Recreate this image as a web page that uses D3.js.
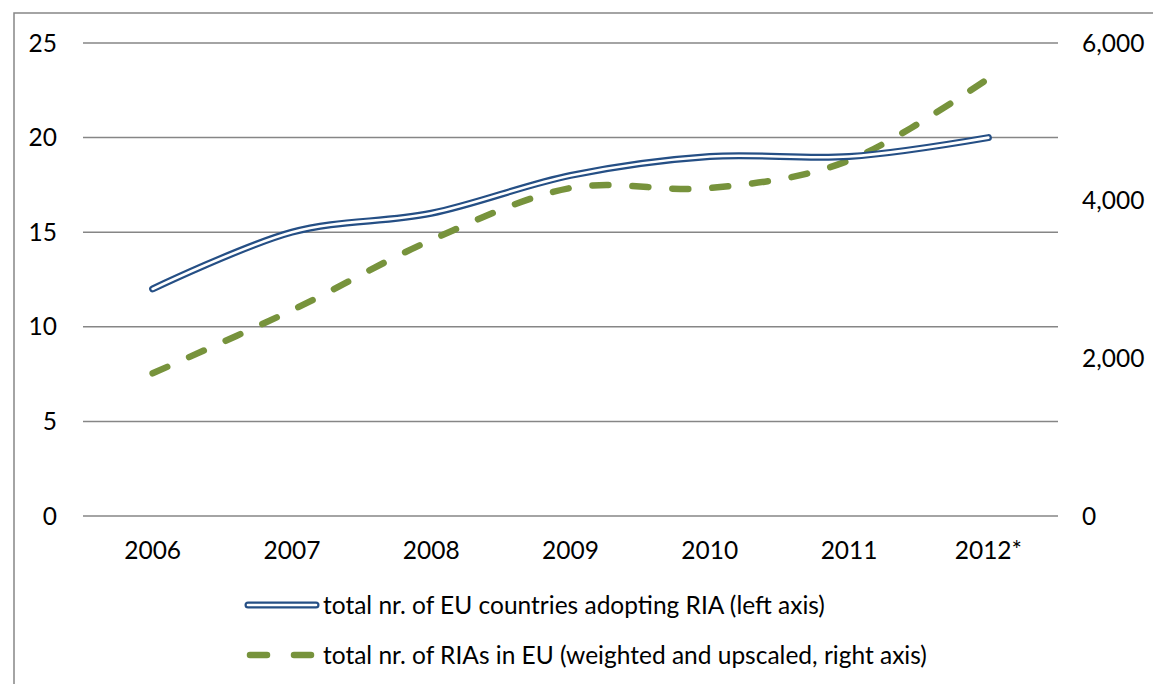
<!DOCTYPE html>
<html>
<head>
<meta charset="utf-8">
<script src="https://d3js.org/d3.v7.min.js"></script>
<style>
body { margin: 0; background: #fff; }
svg { display: block; }
text { font-family: Lato, "Open Sans", sans-serif; font-size: 24.5px; fill: #000; }
</style>
</head>
<body>
<svg id="chart" width="1153" height="684"></svg>
<script>

var years = ["2006", "2007", "2008", "2009", "2010", "2011", "2012*"];
var countries = [12, 15, 16, 18, 19, 19, 20];
var rias = [1810, 2610, 3500, 4160, 4160, 4510, 5550];
var leftTicks = [0, 5, 10, 15, 20, 25];
var rightTicks = [0, 2000, 4000, 6000];
var legendLabels = ["total nr. of EU countries adopting RIA (left axis)",
  "total nr. of RIAs in EU (weighted and upscaled, right axis)"];

var svg = d3.select("#chart");
var plotL = 83, plotR = 1058, plotT = 43, plotB = 516;

// outer frame, runs off the right and bottom edges
svg.append("rect")
  .attr("x", 14).attr("y", 13)
  .attr("width", 1200).attr("height", 700)
  .attr("fill", "none")
  .attr("stroke", "#868686")
  .attr("stroke-width", 1.5);

var x = d3.scaleBand().domain(years).range([plotL, plotR]);
var yL = d3.scaleLinear().domain([0, 25]).range([plotB, plotT]);
var yR = d3.scaleLinear().domain([0, 6000]).range([plotB, plotT]);

// gridlines
svg.selectAll(".grid").data(leftTicks).enter()
  .append("line")
  .attr("class", "grid")
  .attr("x1", plotL).attr("x2", plotR)
  .attr("y1", function(d) { return yL(d); })
  .attr("y2", function(d) { return yL(d); })
  .attr("stroke", "#868686")
  .attr("stroke-width", 1.5);

// left axis labels
svg.selectAll(".ltick").data(leftTicks).enter()
  .append("text")
  .attr("x", 57)
  .attr("y", function(d) { return yL(d); })
  .attr("dy", "0.35em")
  .attr("text-anchor", "end")
  .text(function(d) { return d; });

// right axis labels
var fmt = d3.format(",");
svg.selectAll(".rtick").data(rightTicks).enter()
  .append("text")
  .attr("x", 1082)
  .attr("y", function(d) { return yR(d); })
  .attr("dy", "0.35em")
  .attr("text-anchor", "start")
  .text(function(d) { return fmt(d); });

// category labels
svg.selectAll(".xtick").data(years).enter()
  .append("text")
  .attr("x", function(d) { return x(d) + x.bandwidth() / 2; })
  .attr("y", 550)
  .attr("dy", "0.35em")
  .attr("text-anchor", "middle")
  .text(function(d) { return d; });

var cx = function(d, i) { return x(years[i]) + x.bandwidth() / 2; };

var lineL = d3.line().x(cx).y(function(d) { return yL(d); })
  .curve(d3.curveCardinal.tension(0));
var lineR = d3.line().x(cx).y(function(d) { return yR(d); })
  .curve(d3.curveCardinal.tension(0));

// green dashed series (right axis)
svg.append("path")
  .attr("d", lineR(rias))
  .attr("fill", "none")
  .attr("stroke", "#77933C")
  .attr("stroke-width", 6.5)
  .attr("stroke-linecap", "round")
  .attr("stroke-dasharray", "16,24");

// blue double line (left axis)
svg.append("path")
  .attr("d", lineL(countries))
  .attr("fill", "none")
  .attr("stroke", "#254F85")
  .attr("stroke-width", 7)
  .attr("stroke-linecap", "round");
svg.append("path")
  .attr("d", lineL(countries))
  .attr("fill", "none")
  .attr("stroke", "#fff")
  .attr("stroke-width", 2.6)
  .attr("stroke-linecap", "round");

// legend
svg.append("line")
  .attr("x1", 248).attr("x2", 316).attr("y1", 605).attr("y2", 605)
  .attr("stroke", "#254F85").attr("stroke-width", 7).attr("stroke-linecap", "round");
svg.append("line")
  .attr("x1", 248).attr("x2", 316).attr("y1", 605).attr("y2", 605)
  .attr("stroke", "#fff").attr("stroke-width", 2.6).attr("stroke-linecap", "round");
svg.append("line")
  .attr("x1", 250).attr("x2", 318).attr("y1", 655).attr("y2", 655)
  .attr("stroke", "#77933C").attr("stroke-width", 6.5).attr("stroke-linecap", "round")
  .attr("stroke-dasharray", "17,27");

svg.selectAll(".leg").data(legendLabels).enter()
  .append("text")
  .attr("x", 323)
  .attr("y", function(d, i) { return 605 + i * 50; })
  .attr("dy", "0.35em")
  .text(function(d) { return d; });

</script>
</body>
</html>
